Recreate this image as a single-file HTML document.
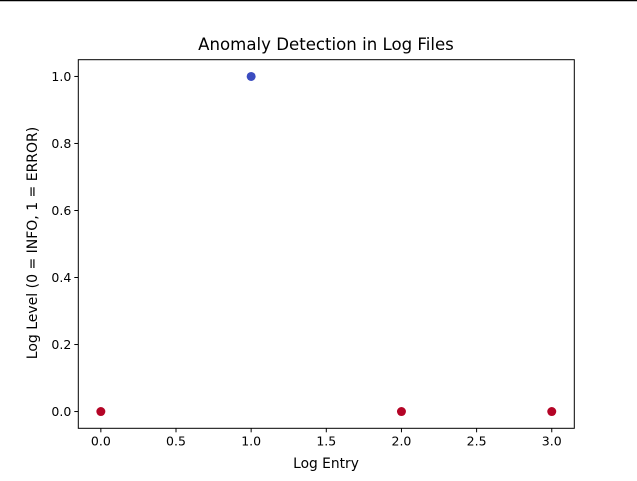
<!DOCTYPE html>
<html><head><meta charset="utf-8"><style>
body{margin:0;background:#fff;}
svg{display:block;font-family:"DejaVu Sans","Liberation Sans",sans-serif;}
</style></head><body>
<svg id="chart" width="637" height="481">
<line x1="0" y1="0.5" x2="637" y2="0.5" stroke="#000" stroke-width="1.5"/>
<text x="326" y="50" font-size="16.6" text-anchor="middle">Anomaly Detection in Log Files</text>
<g id="ticks"></g>
<g id="points"></g>
<rect x="78.3" y="59.7" width="496" height="368.6" fill="none" stroke="#000" stroke-width="1"/>
<text x="326" y="468" font-size="13.8" text-anchor="middle">Log Entry</text>
<text transform="translate(37,243) rotate(-90)" font-size="14" text-anchor="middle">Log Level (0 = INFO, 1 = ERROR)</text>
</svg>
<script>
const entries=[0,1,2,3];
const levels=[0,1,0,0];
const colors=['#b40426','#3b4cc0','#b40426','#b40426'];
const xTicks=[0,0.5,1,1.5,2,2.5,3];
const xTickLabels=['0.0','0.5','1.0','1.5','2.0','2.5','3.0'];
const yTicks=[0,0.2,0.4,0.6,0.8,1];
const yTickLabels=['0.0','0.2','0.4','0.6','0.8','1.0'];
const L=78.3,R=574.3,T=59.7,B=428.3;
const xmin=-0.15,xmax=3.15,ymin=-0.05,ymax=1.05;
function sx(v){return L+(v-xmin)/(xmax-xmin)*(R-L);}
function sy(v){return B-(v-ymin)/(ymax-ymin)*(B-T);}
const NS='http://www.w3.org/2000/svg';
const tg=document.getElementById('ticks');
xTicks.forEach((v,i)=>{
 const l=document.createElementNS(NS,'line');
 l.setAttribute('x1',sx(v));l.setAttribute('x2',sx(v));l.setAttribute('y1',B);l.setAttribute('y2',B+4);l.setAttribute('stroke','#000');
 
 
 tg.appendChild(l);
 const t=document.createElementNS(NS,'text');
 t.setAttribute('x',sx(v));t.setAttribute('y',B+17);t.setAttribute('font-size','12.5');t.setAttribute('text-anchor','middle');
 t.textContent=xTickLabels[i];
 
 
 tg.appendChild(t);
});
yTicks.forEach((v,i)=>{
 const l=document.createElementNS(NS,'line');
 l.setAttribute('x1',L-4);l.setAttribute('x2',L);l.setAttribute('y1',sy(v));l.setAttribute('y2',sy(v));l.setAttribute('stroke','#000');
 
 
 tg.appendChild(l);
 const t=document.createElementNS(NS,'text');
 t.setAttribute('x',L-7);t.setAttribute('y',sy(v)+4.5);t.setAttribute('font-size','12.5');t.setAttribute('text-anchor','end');
 t.textContent=yTickLabels[i];
 
 
 tg.appendChild(t);
});
const pg=document.getElementById('points');
entries.forEach((e,i)=>{
 const c=document.createElementNS(NS,'circle');
 c.setAttribute('cx',sx(e));c.setAttribute('cy',sy(levels[i]));c.setAttribute('r','4.5');c.setAttribute('fill',colors[i]);
 
 
 pg.appendChild(c);
});
</script>
</body></html>
